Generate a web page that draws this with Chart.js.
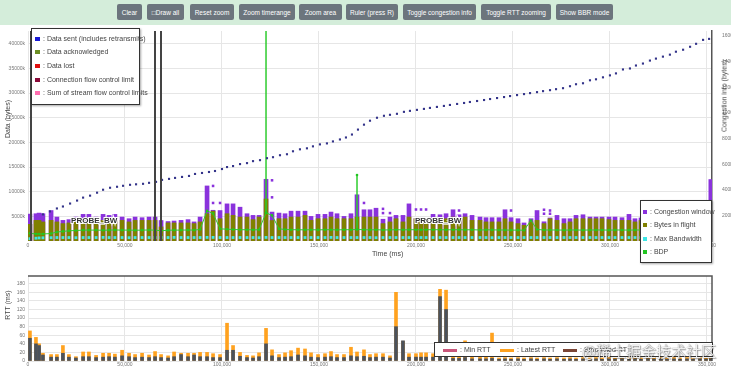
<!DOCTYPE html>
<html>
<head>
<meta charset="utf-8">
<script src="https://cdn.jsdelivr.net/npm/chart.js@4.4.0/dist/chart.umd.min.js"></script>
<style>
  html, body { margin: 0; padding: 0; background: #fff; width: 731px; height: 368px; overflow: hidden; font-family: Arial, "Liberation Sans", sans-serif; }
  #toolbar { position: absolute; left: 0; top: 0; width: 731px; height: 25px; background: #d4edda; }
  #toolbar button { position: absolute; top: 4px; height: 16px; background: #6c757d; color: #fff; border: none; border-radius: 2px; font-size: 6.5px; padding: 0; font-family: inherit; }
  #topWrap { position: absolute; left: 0; top: 25px; width: 731px; height: 245px; }
  #rttWrap { position: absolute; left: 0; top: 270px; width: 731px; height: 98px; }
  .legend { position: absolute; box-sizing: border-box; background: #fff; border: 1px solid #333; box-shadow: 1px 1px 2px rgba(0,0,0,0.35); font-size: 7px; color: #444; }
  .legend .item { position: absolute; white-space: nowrap; line-height: 8px; height: 8px; }
  .legend .sw { display: inline-block; width: 5px; height: 4px; margin-right: 3px; vertical-align: 0px; }
  .axisTitle { position: absolute; white-space: nowrap; font-size: 7px; color: #444; transform: translate(-50%, -50%) rotate(-90deg); }
  #watermark { position: absolute; left: 582px; top: 340px; font-family: "Noto Sans CJK SC", sans-serif; font-size: 15px; color: rgba(255,255,255,0.9); text-shadow: 0 0 1px rgba(0,0,0,0.7), 1px 1px 1px rgba(0,0,0,0.3); white-space: nowrap; }
</style>
</head>
<body>
<div id="toolbar">
  <button style="left:117px;width:25px">Clear</button>
  <button style="left:147px;width:37px">□Draw all</button>
  <button style="left:190px;width:44px">Reset zoom</button>
  <button style="left:239px;width:56px">Zoom timerange</button>
  <button style="left:299px;width:43px">Zoom area</button>
  <button style="left:346px;width:52px">Ruler (press R)</button>
  <button style="left:403px;width:73px">Toggle congestion info</button>
  <button style="left:481px;width:70px">Toggle RTT zooming</button>
  <button style="left:556px;width:57px">Show BBR mode</button>
</div>

<div id="topWrap"><canvas id="topChart" width="731" height="245"></canvas></div>
<div id="rttWrap"><canvas id="rttChart" width="731" height="98"></canvas></div>

<div class="axisTitle" style="left:7px;top:119px">Data (bytes)</div>
<div class="axisTitle" style="left:724px;top:96px">Congestion info (bytes)</div>
<div class="axisTitle" style="left:7px;top:305px">RTT (ms)</div>
<div style="position:absolute;left:372px;top:250px;font-size:7px;color:#444">Time (ms)</div>

<div class="legend" style="left:31px;top:28px;width:109px;height:77px">
  <div class="item" style="left:3px;top:6px"><span class="sw" style="background:#1a1ad6"></span>: Data sent (includes retransmits)</div>
  <div class="item" style="left:3px;top:19px"><span class="sw" style="background:#6b8e23"></span>: Data acknowledged</div>
  <div class="item" style="left:3px;top:33px"><span class="sw" style="background:#e01010"></span>: Data lost</div>
  <div class="item" style="left:3px;top:47px"><span class="sw" style="background:#8b0a3a"></span>: Connection flow control limit</div>
  <div class="item" style="left:3px;top:60px"><span class="sw" style="background:#ff6fb0"></span>: Sum of stream flow control limits</div>
</div>

<div class="legend" style="left:640px;top:200px;width:72px;height:63px">
  <div class="item" style="left:2px;top:7px"><span class="sw" style="background:#8a32dc;width:4px"></span>: Congestion window</div>
  <div class="item" style="left:2px;top:20px"><span class="sw" style="background:#808000;width:4px"></span>: Bytes in flight</div>
  <div class="item" style="left:2px;top:34px"><span class="sw" style="background:#3ee6e6;width:4px"></span>: Max Bandwidth</div>
  <div class="item" style="left:2px;top:47px"><span class="sw" style="background:#22c522;width:4px"></span>: BDP</div>
</div>

<div class="legend" style="left:434px;top:342px;width:279px;height:15px;box-shadow:none">
  <div class="item" style="left:8px;top:3px"><span class="sw" style="background:#c9577b;width:14px;height:3px"></span>: Min RTT</div>
  <div class="item" style="left:65px;top:3px"><span class="sw" style="background:#ffa21f;width:14px;height:3px"></span>: Latest RTT</div>
  <div class="item" style="left:128px;top:3px"><span class="sw" style="background:#7a4535;width:14px;height:3px"></span>: Smoothed RTT</div>
</div>
<div id="watermark">@稀土掘金技术社区</div>

<script>
// Eje de tiempo (ms) y marcas de los ejes
const xMax = 352600;
const timeTicks = [0, 50000, 100000, 150000, 200000, 250000, 300000, 350000];
const dataTicks = [5000, 10000, 15000, 20000, 25000, 30000, 35000, 40000];
const congTicks = [200, 400, 600, 800, 1000, 1200, 1400, 1600];
const rttTicks = [0, 20, 40, 60, 80, 100, 120, 140, 160, 180];

// Datos enviados (k bytes) - eje izquierdo
const sentTimes = [
  7700, 11300, 14900, 18000, 21700, 25300, 28400, 32000, 35600, 38700,
  42300, 45900, 49000, 52600, 55700, 59300, 62400, 66000, 69100, 72700,
  75800, 79400, 83000, 86100, 89700, 93300, 96400, 100000, 102600, 105700,
  109300, 112900, 116000, 119600, 123200, 126300, 129900, 133500, 136600, 140200,
  143800, 146900, 150500, 154100, 157200, 160800, 163900, 167000, 170100, 173200,
  176300, 179900, 183500, 186600, 190200, 193800, 196900, 200500, 204100, 207200,
  210800, 214400, 217500, 221200, 224800, 227800, 231500, 235100, 238200, 241800,
  245400, 248500, 252100, 255700, 258800, 262400, 265500, 269100, 272200, 275800,
  279400, 282500, 286100, 289700, 292800, 296400, 300000, 303100, 306700, 310300,
  313400, 317000, 320600, 323700, 327300, 330900, 334000, 337700, 341300, 344400,
  348000, 351100
];
const sentKB = [
  5400, 6000, 6600, 7000, 7600, 8200, 8800, 9200, 9800, 10400,
  10800, 11000, 11200, 11400, 11500, 11600, 11800, 12000, 12400, 12600,
  12800, 13000, 13200, 13600, 13800, 14000, 14200, 14600, 15000, 15200,
  15600, 15800, 16200, 16400, 16800, 17000, 17400, 17600, 18200, 18600,
  18800, 19200, 19600, 19800, 20200, 20600, 21000, 21600, 22600, 23600,
  24400, 25000, 25400, 25600, 25800, 26200, 26400, 26600, 26800, 27000,
  27200, 27400, 27600, 27800, 28000, 28200, 28400, 28600, 28800, 29000,
  29200, 29400, 29600, 29800, 30000, 30200, 30400, 30600, 30800, 31000,
  31400, 31800, 32000, 32600, 32800, 33200, 33600, 34000, 34800, 35000,
  35600, 36000, 36600, 37000, 37400, 37800, 38400, 38800, 39400, 40000,
  40800, 41000
];

// Muestras de congestión (tiempo en ms)
const barTimes = [
  1000, 4100, 5700, 7700, 11900, 14900, 18000, 21100, 24700, 28400,
  31400, 35100, 38700, 41800, 44800, 48500, 52100, 55200, 58800, 62400,
  65500, 68600, 72200, 75300, 78900, 82500, 85600, 88700, 92300, 95400,
  99000, 102600, 105700, 109300, 112900, 116000, 119100, 122700, 125800, 129400,
  132500, 135600, 139200, 142800, 145900, 149500, 153100, 156200, 159300, 162900,
  166500, 169600, 173200, 176300, 179400, 183000, 186600, 189700, 193300, 196400,
  200000, 202600, 205200, 208800, 212400, 215500, 219100, 222200, 225300, 228900,
  233000, 236100, 239200, 242800, 245900, 249000, 252600, 255700, 259300, 262400,
  266000, 269100, 272700, 276300, 279400, 282500, 286100, 289700, 292800, 295900,
  299500, 302600, 306200, 309800, 312900, 316000, 319600, 322700, 326300, 329400,
  333000, 336100, 339700, 342800, 346400, 349500, 352000
];
// Ventana de congestión (k bytes)
const cwndKB = [
  210, 213, 218, 213, 238, 187, 161, 167, 187, 208,
  208, 187, 208, 200, 208, 187, 174, 187, 182, 187,
  187, 160, 152, 156, 161, 167, 149, 187, 430, 240,
  238, 290, 290, 264, 213, 200, 200, 482, 226, 218,
  213, 233, 233, 233, 192, 208, 208, 226, 213, 192,
  213, 361, 244, 244, 256, 170, 187, 200, 200, 290,
  175, 170, 170, 208, 205, 213, 244, 205, 213, 200,
  187, 182, 182, 182, 244, 182, 174, 141, 174, 238,
  150, 180, 200, 174, 174, 200, 205, 187, 187, 187,
  187, 187, 182, 208, 174, 180, 185, 178, 182, 176,
  184, 180, 186, 178, 182, 180, 480
];
// Bytes en vuelo (k bytes)
const inflightKB = [
  130, 161, 161, 149, 161, 149, 136, 141, 149, 156,
  161, 149, 161, 149, 161, 161, 149, 161, 161, 161,
  161, 110, 141, 141, 141, 141, 136, 149, 213, 233,
  174, 213, 200, 187, 187, 167, 187, 328, 160, 174,
  174, 187, 187, 200, 161, 174, 174, 187, 174, 174,
  174, 187, 187, 187, 187, 136, 149, 174, 149, 187,
  174, 161, 161, 161, 174, 174, 187, 161, 187, 161,
  161, 149, 149, 149, 174, 149, 136, 123, 149, 161,
  136, 174, 161, 136, 149, 174, 174, 174, 174, 174,
  167, 161, 161, 161, 149, 160, 165, 158, 162, 155,
  160, 158, 163, 157, 160, 158, 150
];
// Ancho de banda máximo (k)
const maxBwKB = [
  18, 22, 24, 25, 26, 27, 27, 27, 26, 27,
  27, 27, 28, 27, 27, 27, 26, 27, 27, 27,
  27, 27, 27, 28, 27, 27, 27, 27, 28, 28,
  27, 27, 27, 27, 27, 27, 26, 28, 27, 27,
  27, 27, 27, 27, 27, 27, 27, 28, 27, 27,
  27, 27, 27, 27, 26, 27, 27, 27, 27, 27,
  27, 27, 27, 27, 27, 27, 27, 27, 27, 27,
  27, 27, 26, 27, 27, 27, 27, 27, 27, 27,
  27, 27, 27, 27, 27, 27, 27, 27, 27, 27,
  27, 27, 27, 27, 27, 27, 27, 27, 27, 27,
  27, 27, 27, 27, 27, 27, 27
];
// BDP (k)
const bdpKB = [
  60, 55, 55, 55, 58, 70, 75, 80, 82, 85,
  85, 85, 84, 85, 86, 85, 85, 84, 85, 86,
  85, 80, 84, 85, 85, 86, 85, 90, 235, 215,
  95, 92, 90, 88, 88, 87, 88, 220, 200, 95,
  90, 88, 88, 87, 88, 87, 88, 88, 87, 88,
  88, 90, 88, 87, 88, 86, 87, 88, 87, 88,
  88, 87, 88, 88, 88, 87, 88, 88, 87, 88,
  86, 87, 87, 86, 86, 85, 85, 84, 160, 90,
  86, 86, 86, 85, 86, 86, 85, 86, 86, 86,
  85, 86, 86, 85, 86, 86, 85, 86, 86, 85,
  86, 85, 86, 86, 85, 86, 200
];
const bdpSpikeTimes = [122700, 169600];
const bdpSpikeKB = [2600, 515];

// Puntos sueltos de la ventana de congestión
const cwndDotTimes = [95400, 95400, 99000, 125800, 125800, 173200, 183000, 183000, 186600, 200000, 202600, 205200, 222200, 249000, 266000, 266000, 269100, 269100];
const cwndDotKB = [430, 297, 297, 474, 341, 297, 251, 218, 218, 246, 246, 246, 238, 238, 244, 213, 238, 213];

// RTT (ms) por muestra
const latestRtt = [
  70, 55, 40, 18, 15, 15, 36, 15, 10, 21,
  21, 13, 18, 18, 16, 25, 18, 15, 18, 14,
  22, 15, 12, 21, 18, 18, 18, 20, 20, 17,
  15, 88, 36, 20, 13, 12, 19, 76, 26, 15,
  19, 24, 30, 28, 19, 15, 17, 22, 15, 15,
  32, 21, 26, 15, 17, 17, 12, 160, 46, 17,
  17, 19, 19, 17, 167, 165, 10, 10, 47, 9,
  9, 9, 65, 7, 8, 7, 8, 7, 8, 7,
  8, 7, 8, 7, 8, 7, 8, 7, 8, 7,
  8, 7, 8, 7, 8, 7, 8, 7, 8, 7,
  8, 7, 8, 7, 8, 7, 22
];
const smoothedRtt = [
  53, 40, 36, 14, 9, 9, 18, 9, 7, 10,
  10, 8, 9, 10, 9, 12, 10, 8, 9, 8,
  10, 8, 7, 10, 15, 10, 14, 10, 10, 8,
  8, 25, 25, 11, 8, 7, 10, 40, 12, 8,
  9, 10, 14, 12, 9, 8, 9, 10, 8, 8,
  12, 10, 11, 8, 9, 9, 7, 80, 47, 9,
  9, 9, 9, 9, 150, 120, 6, 6, 8, 5,
  5, 5, 6, 4, 5, 4, 5, 4, 5, 4,
  5, 4, 5, 4, 5, 4, 5, 4, 5, 4,
  5, 4, 5, 4, 5, 4, 5, 4, 5, 4,
  5, 4, 5, 4, 5, 4, 5
];

// Marcadores de modo BBR
const bbrMarkerTimes = [1550, 65500, 68600];
const bbrModes = ["PROBE_BW", "PROBE_BW"];
const bbrModeTimes = [22200, 199500];

Chart.defaults.font.family = 'Arial, "Liberation Sans", sans-serif';

// Puntos de BDP con los picos verticales
const bdpPoints = [];
barTimes.forEach((t, i) => {
  bdpPoints.push({ x: t, y: bdpKB[i] });
  const s = bdpSpikeTimes.indexOf(t);
  if (s >= 0) {
    bdpPoints.push({ x: t, y: bdpSpikeKB[s] });
    bdpPoints.push({ x: t, y: bdpKB[i] });
  }
});

const pts = (xs, ys) => xs.map((t, i) => ({ x: t, y: ys[i] }));
// Fija las marcas de un eje a partir de una lista
const fixedTicks = list => axis => { axis.ticks = list.map(v => ({ value: v })); };

// Líneas de modo BBR y etiquetas
const markerPlugin = {
  id: "markers",
  afterDatasetsDraw(chart) {
    const { ctx, chartArea, scales } = chart;
    ctx.save();
    ctx.strokeStyle = "#444";
    ctx.lineWidth = 2;
    bbrMarkerTimes.forEach(t => {
      const px = Math.round(scales.x.getPixelForValue(t));
      ctx.beginPath();
      ctx.moveTo(px, chartArea.top);
      ctx.lineTo(px, chartArea.bottom);
      ctx.stroke();
    });
    ctx.font = "bold 8px Arial";
    ctx.textBaseline = "middle";
    ctx.lineWidth = 2;
    ctx.strokeStyle = "#fff";
    ctx.fillStyle = "#333";
    bbrModeTimes.forEach((t, i) => {
      const px = scales.x.getPixelForValue(t);
      const py = chartArea.bottom - 20;
      ctx.strokeText(bbrModes[i], px, py);
      ctx.fillText(bbrModes[i], px, py);
    });
    ctx.restore();
  }
};

const tickFont = { size: 5 };

new Chart(document.getElementById("topChart"), {
  type: "bar",
  data: {
    datasets: [
      {
        type: "scatter", label: "Data sent (includes retransmits)", yAxisID: "y",
        data: pts(sentTimes, sentKB), pointStyle: "rect", pointRadius: 1.5,
        backgroundColor: "#34348a", borderColor: "#34348a", borderWidth: 0, order: 0
      },
      {
        type: "line", label: "BDP", yAxisID: "y2", data: bdpPoints,
        borderColor: "#2ecc2e", backgroundColor: "#22c522", borderWidth: 1,
        pointRadius: 1.3, pointBorderWidth: 0, tension: 0, order: 1
      },
      {
        type: "scatter", label: "Max Bandwidth", yAxisID: "y2", data: pts(barTimes, maxBwKB),
        pointStyle: "rect", pointRadius: 2, backgroundColor: "#3ee6e6", borderWidth: 0, order: 2
      },
      {
        type: "bar", label: "Bytes in flight", yAxisID: "y2", data: pts(barTimes, inflightKB),
        backgroundColor: "#808000", barThickness: 4, grouped: false, order: 3
      },
      {
        type: "scatter", label: "Congestion window (dots)", yAxisID: "y2", data: pts(cwndDotTimes, cwndDotKB),
        pointStyle: "rect", pointRadius: 1.8, backgroundColor: "#8a32dc", borderWidth: 0, order: 4
      },
      {
        type: "bar", label: "Congestion window", yAxisID: "y2", data: pts(barTimes, cwndKB),
        backgroundColor: "#8a32dc", barThickness: 4, grouped: false, order: 5
      }
    ]
  },
  options: {
    responsive: false,
    animation: false,
    layout: { padding: { top: 3, left: 0, right: 0, bottom: 0 } },
    plugins: { legend: { display: false }, tooltip: { enabled: false } },
    scales: {
      x: {
        type: "linear", min: 0, max: xMax, offset: false,
        afterBuildTicks: fixedTicks(timeTicks),
        ticks: { font: tickFont, color: "#777", padding: 2, maxRotation: 0, autoSkip: false },
        grid: { color: "#e6e6e6", drawTicks: false, offset: false },
        border: { display: false },
        afterFit: s => { s.height = 29; }
      },
      y: {
        position: "left", min: 0, max: 42600,
        afterBuildTicks: fixedTicks(dataTicks),
        ticks: { callback: v => v + "k", font: tickFont, color: "#777", padding: 3, autoSkip: false },
        grid: { color: "#e6e6e6", drawTicks: false },
        border: { display: false },
        afterFit: s => { s.width = 28; }
      },
      y2: {
        position: "right", min: 0, max: 1640,
        afterBuildTicks: fixedTicks(congTicks),
        ticks: { callback: v => v + "k", font: tickFont, color: "#777", padding: 2, autoSkip: false },
        grid: { display: false },
        border: { display: true, color: "#555", width: 1.5 },
        afterFit: s => { s.width = 19; }
      }
    }
  },
  plugins: [markerPlugin]
});

// Borde superior y derecho del gráfico RTT
const rttBorder = {
  id: "rttBorder",
  afterDraw(chart) {
    const { ctx, chartArea } = chart;
    ctx.save();
    ctx.strokeStyle = "#555";
    ctx.lineWidth = 1.5;
    ctx.beginPath();
    ctx.moveTo(chartArea.left, chartArea.top);
    ctx.lineTo(chartArea.right, chartArea.top);
    ctx.lineTo(chartArea.right, chartArea.bottom);
    ctx.stroke();
    ctx.restore();
  }
};

new Chart(document.getElementById("rttChart"), {
  type: "bar",
  data: {
    datasets: [
      {
        label: "Smoothed RTT", data: pts(barTimes, smoothedRtt),
        backgroundColor: "#4b525c", barThickness: 3, grouped: false, order: 1
      },
      {
        label: "Latest RTT", data: pts(barTimes, latestRtt),
        backgroundColor: "#ffa21f", barThickness: 3, grouped: false, order: 2
      }
    ]
  },
  options: {
    responsive: false,
    animation: false,
    layout: { padding: { top: 2, left: 0, right: 19, bottom: 0 } },
    plugins: { legend: { display: false }, tooltip: { enabled: false } },
    scales: {
      x: {
        type: "linear", min: 0, max: xMax, offset: false,
        afterBuildTicks: fixedTicks(timeTicks),
        ticks: { font: tickFont, color: "#777", padding: 1, maxRotation: 0, autoSkip: false },
        grid: { color: "#e6e6e6", drawTicks: false, offset: false },
        border: { display: false },
        afterFit: s => { s.height = 7; }
      },
      y: {
        min: 0, max: 198,
        afterBuildTicks: fixedTicks(rttTicks),
        ticks: { font: tickFont, color: "#777", padding: 3, autoSkip: false },
        grid: { color: "#e6e6e6", drawTicks: false },
        border: { display: false },
        afterFit: s => { s.width = 28; }
      }
    }
  },
  plugins: [rttBorder]
});
</script>
</body>
</html>
